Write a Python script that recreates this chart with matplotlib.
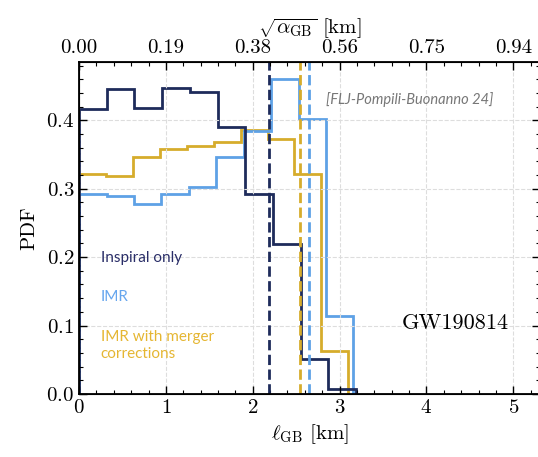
import numpy as np
import matplotlib
matplotlib.use('Agg')
import matplotlib.pyplot as plt
from matplotlib.ticker import MultipleLocator
from matplotlib import font_manager

plt.rcParams['font.family'] = 'serif'
plt.rcParams['font.serif'] = ['cmr10']
plt.rcParams['mathtext.fontset'] = 'cm'
plt.rcParams['axes.formatter.use_mathtext'] = True

# histogram heights (10 bins each, from 0 to the series' maximum)
inspiral_pdf = [0.416, 0.446, 0.418, 0.447, 0.441, 0.390, 0.292, 0.219, 0.051, 0.007]
imr_pdf = [0.292, 0.290, 0.278, 0.292, 0.303, 0.346, 0.384, 0.460, 0.402, 0.114]
merger_pdf = [0.321, 0.319, 0.346, 0.358, 0.362, 0.368, 0.386, 0.372, 0.321, 0.063]
inspiral_max, imr_max, merger_max = 3.19, 3.16, 3.10

# 90% bounds (dashed lines)
inspiral_bound = 2.185
imr_bound = 2.645
merger_bound = 2.54

xticks = [0, 1, 2, 3, 4, 5]
alpha_factor = 0.188  # sqrt(alpha_GB) per km of ell_GB

navy = '#1e2b5b'
blue = '#5ea1e6'
gold = '#d6ac2c'

# pick an italic sans for the citation if one exists
italic_family = 'Lato'
for fam in ['Lato', 'Open Sans', 'Noto Sans', 'Roboto', 'Inter']:
    f = font_manager.findfont(font_manager.FontProperties(family=fam, style='italic'))
    if 'italic' in f.lower() or 'oblique' in f.lower():
        italic_family = fam
        break

fig = plt.figure(figsize=(5.38, 4.57), dpi=100)
ax = fig.add_axes([0.147, 0.138, 0.857, 0.726])

ax.stairs(merger_pdf, np.linspace(0, merger_max, len(merger_pdf) + 1),
          baseline=0, color=gold, lw=2.0)
ax.stairs(imr_pdf, np.linspace(0, imr_max, len(imr_pdf) + 1),
          baseline=0, color=blue, lw=2.0)
ax.stairs(inspiral_pdf, np.linspace(0, inspiral_max, len(inspiral_pdf) + 1),
          baseline=0, color=navy, lw=2.0)

ax.axvline(inspiral_bound, color=navy, ls='--', lw=2.0)
ax.axvline(merger_bound, color=gold, ls='--', lw=2.0)
ax.axvline(imr_bound, color=blue, ls='--', lw=2.0)

ax.set_xlim(0, 5.31)
ax.set_ylim(0, 0.485)
ax.set_xticks(xticks)
ax.xaxis.set_minor_locator(MultipleLocator(0.2))
ax.yaxis.set_major_locator(MultipleLocator(0.1))
ax.yaxis.set_minor_locator(MultipleLocator(0.02))
ax.tick_params(which='both', direction='in', right=True, labelsize=15)
ax.tick_params(which='major', length=6, width=1)
ax.tick_params(which='minor', length=3, width=0.8)
ax.grid(True, which='major', ls='--', color='#dddddd', lw=0.8)
for s in ax.spines.values():
    s.set_linewidth(1.3)

ax.set_xlabel(r'$\ell_{\rm GB}$ [km]', fontsize=15, labelpad=4)
ax.set_ylabel('PDF', fontsize=15, labelpad=6)

top = ax.twiny()
top.set_xlim(ax.get_xlim())
top.set_xticks(xticks)
top.set_xticklabels(['%.2f' % (x * alpha_factor) for x in xticks])
top.xaxis.set_minor_locator(MultipleLocator(0.2))
top.tick_params(which='both', direction='in', labelsize=15)
top.tick_params(which='major', length=6, width=1)
top.tick_params(which='minor', length=3, width=0.8)
top.set_xlabel(r'$\sqrt{\alpha_{\rm GB}}$ [km]', fontsize=15, labelpad=4)

ax.text(0.25, 0.199, 'Inspiral only', color='#2a2e68', family='Lato',
        fontsize=11, va='center')
ax.text(0.25, 0.142, 'IMR', color='#66a6ee', family='Lato',
        fontsize=11, va='center')
ax.text(0.25, 0.071, 'IMR with merger\ncorrections', color='#e5b632',
        family='Lato', fontsize=11, va='center', linespacing=1.3)
ax.text(2.84, 0.430, '[FLJ-Pompili-Buonanno 24]', color='#777777',
        family=italic_family, style='italic', fontsize=10.5, va='center')
ax.text(4.95, 0.104, 'GW190814', fontsize=16, ha='right', va='center')

fig.savefig('out.png', dpi=100)
